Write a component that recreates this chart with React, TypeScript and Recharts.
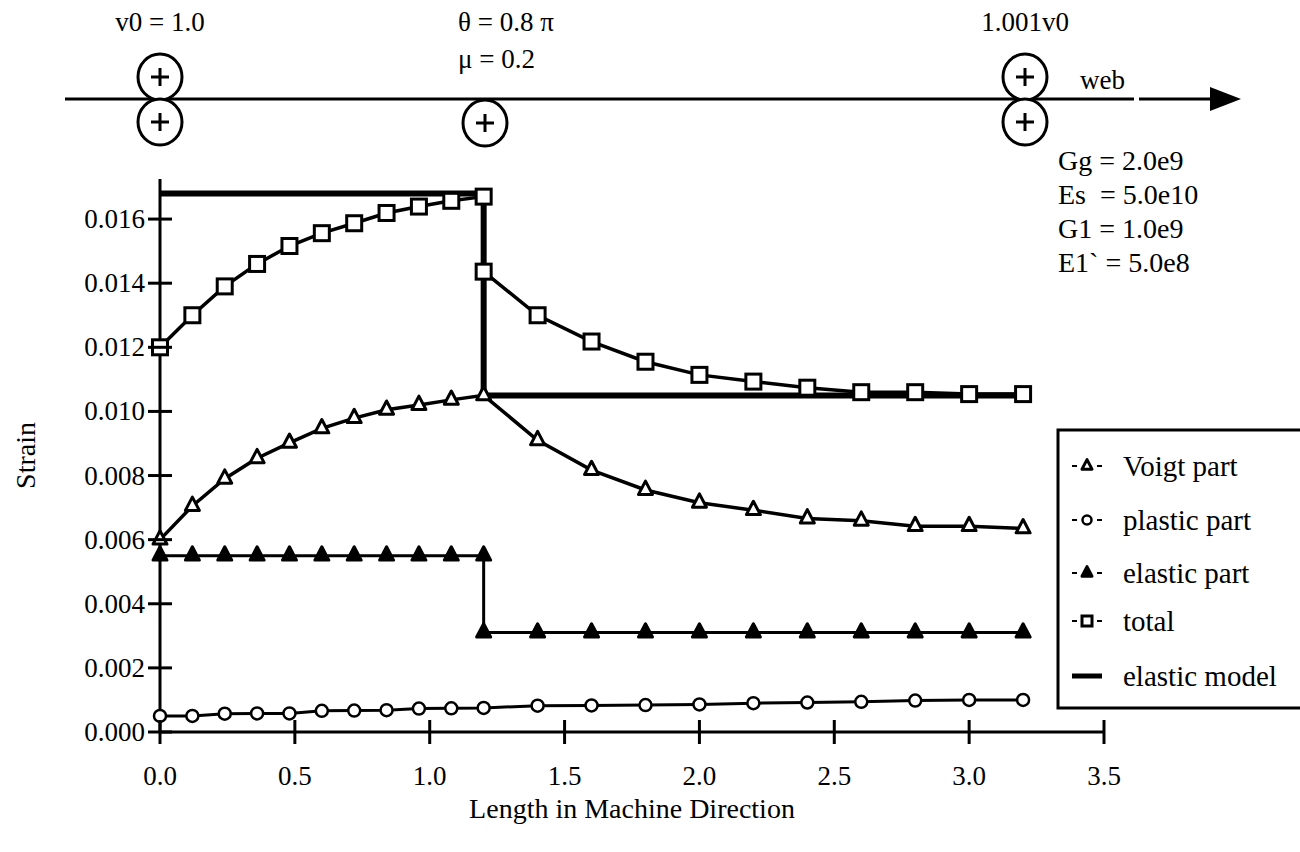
import React from 'react';
import { LineChart, Line, XAxis, YAxis } from 'recharts';

const font = 'Liberation Serif, Times New Roman, DejaVu Serif, serif';
const ts = { fontFamily: font, whiteSpace: 'pre' as const };

// positions along the machine direction
const xBefore = [0, 0.12, 0.24, 0.36, 0.48, 0.6, 0.72, 0.84, 0.96, 1.08, 1.2];
const xAfter = [1.4, 1.6, 1.8, 2.0, 2.2, 2.4, 2.6, 2.8, 3.0, 3.2];

const voigtBefore = [0.006, 0.00705, 0.0079, 0.00854, 0.00902, 0.00947, 0.00979, 0.01005, 0.0102, 0.01036, 0.0105];
const voigtAfter = [0.0091, 0.00817, 0.00755, 0.00715, 0.00692, 0.00666, 0.00659, 0.00642, 0.00642, 0.00635];

const plasticBefore = [0.0005, 0.0005, 0.00057, 0.00058, 0.00058, 0.00066, 0.00067, 0.00068, 0.00073, 0.00074, 0.00075];
const plasticAfter = [0.00082, 0.00083, 0.00084, 0.00086, 0.0009, 0.00092, 0.00094, 0.00098, 0.001, 0.001];

const elasticBefore = [0.0055, 0.0055, 0.0055, 0.0055, 0.0055, 0.0055, 0.0055, 0.0055, 0.0055, 0.0055, 0.0055];
// first value is the lower point at x = 1.2
const elasticAfter = [0.0031, 0.0031, 0.0031, 0.0031, 0.0031, 0.0031, 0.0031, 0.0031, 0.0031, 0.0031, 0.0031];

const totalBefore = [0.012, 0.013, 0.0139, 0.0146, 0.01516, 0.01556, 0.01587, 0.01619, 0.01639, 0.01657, 0.0167];
const totalAfter = [0.01436, 0.013, 0.01218, 0.01155, 0.01114, 0.01093, 0.01074, 0.0106, 0.0106, 0.01054, 0.01054];

const modelX = [0, 1.2, 1.2, 3.2];
const modelY = [0.0168, 0.0168, 0.0105, 0.0105];

const xTicks = [0, 0.5, 1.0, 1.5, 2.0, 2.5, 3.0, 3.5];
const yTicks = [0, 0.002, 0.004, 0.006, 0.008, 0.01, 0.012, 0.014, 0.016];

const legendItems = ['Voigt part', 'plastic part', 'elastic part', 'total', 'elastic model'];
const params = ['Gg = 2.0e9', 'Es  = 5.0e10', 'G1 = 1.0e9', 'E1` = 5.0e8'];

const pts = (xs: number[], ys: number[]) => xs.map((x, i) => ({ x, y: ys[i] }));

const voigt = [...pts(xBefore, voigtBefore), ...pts(xAfter, voigtAfter)];
const plastic = [...pts(xBefore, plasticBefore), ...pts(xAfter, plasticAfter)];
const elastic = [...pts(xBefore, elasticBefore), ...pts([1.2, ...xAfter], elasticAfter)];
const total = [...pts(xBefore, totalBefore), ...pts([1.2, ...xAfter], totalAfter)];
const model = pts(modelX, modelY);

const Square = ({ cx, cy, s = 15 }: any) => (
  <rect x={cx - s / 2} y={cy - s / 2} width={s} height={s} fill="#fff" stroke="#000" strokeWidth={3} />
);
const Tri = ({ cx, cy, s = 14, filled = false }: any) => {
  const h = s * 0.95;
  const d = `M${cx},${cy - (2 * h) / 3} L${cx + s / 2},${cy + h / 3} L${cx - s / 2},${cy + h / 3} Z`;
  return <path d={d} fill={filled ? '#000' : '#fff'} stroke="#000" strokeWidth={3} strokeLinejoin="round" />;
};
const Circ = ({ cx, cy, r = 6 }: any) => <circle cx={cx} cy={cy} r={r} fill="#fff" stroke="#000" strokeWidth={2.5} />;

const YTick = ({ x, y, payload }: any) => {
  const ax = x + 12;
  return (
    <g>
      <line x1={ax - 12} x2={ax + 12} y1={y} y2={y} stroke="#000" strokeWidth={3} />
      <text x={x - 3} y={y + 9} textAnchor="end" fontSize={27} style={ts} fill="#000">
        {payload.value.toFixed(3)}
      </text>
    </g>
  );
};

const XTick = ({ x, y, payload }: any) => {
  const ay = y - 12;
  return (
    <g>
      <line x1={x} x2={x} y1={ay - 12} y2={ay + 12} stroke="#000" strokeWidth={3} />
      <text x={x} y={ay + 53} textAnchor="middle" fontSize={27} style={ts} fill="#000">
        {payload.value.toFixed(1)}
      </text>
    </g>
  );
};

const Roller = ({ x, y }: { x: number; y: number }) => (
  <g>
    <ellipse cx={x} cy={y} rx={22} ry={23} fill="#fff" stroke="#000" strokeWidth={3} />
    <line x1={x - 9} x2={x + 9} y1={y} y2={y} stroke="#000" strokeWidth={3} />
    <line x1={x} x2={x} y1={y - 9} y2={y + 9} stroke="#000" strokeWidth={3} />
  </g>
);

const LegendMark = ({ i, x, y }: { i: number; x: number; y: number }) => {
  const dash = <line x1={x - 15} x2={x + 15} y1={y} y2={y} stroke="#000" strokeWidth={2} strokeDasharray="5 20" />;
  if (i === 0) return <g>{dash}<Tri cx={x} cy={y} s={10} /></g>;
  if (i === 1) return <g>{dash}<Circ cx={x} cy={y} r={4.5} /></g>;
  if (i === 2) return <g>{dash}<Tri cx={x} cy={y} s={10} filled /></g>;
  if (i === 3) return <g>{dash}<Square cx={x} cy={y} s={10} /></g>;
  return <line x1={x - 15} x2={x + 15} y1={y} y2={y} stroke="#000" strokeWidth={5} />;
};

export default function App() {
  const legendY = [466, 520, 573, 621, 676];
  return (
    <div style={{ position: 'absolute', left: 0, top: 0, width: 1300, height: 852, background: '#fff', fontFamily: font }}>
      <LineChart width={1300} height={852} margin={{ top: 179, right: 196, left: 100, bottom: 70 }}>
        <XAxis
          type="number"
          dataKey="x"
          domain={[0, 3.5]}
          ticks={xTicks}
          tick={<XTick />}
          tickSize={12}
          tickMargin={0}
          tickLine={false}
          height={50}
          axisLine={{ stroke: '#000', strokeWidth: 3 }}
          allowDuplicatedCategory={false}
          label={({ viewBox }: any) => (
            <text x={viewBox.x + viewBox.width / 2} y={818} textAnchor="middle" fontSize={28} style={ts} fill="#000">
              Length in Machine Direction
            </text>
          )}
        />
        <YAxis
          type="number"
          dataKey="y"
          domain={[0, 0.01725]}
          allowDataOverflow
          ticks={yTicks}
          tick={<YTick />}
          tickSize={12}
          tickMargin={0}
          tickLine={false}
          width={60}
          axisLine={{ stroke: '#000', strokeWidth: 3 }}
          label={({ viewBox }: any) => (
            <text
              x={25}
              y={viewBox.y + viewBox.height / 2}
              transform={`rotate(-90 25 ${viewBox.y + viewBox.height / 2})`}
              textAnchor="middle"
              dominantBaseline="central"
              fontSize={28}
              style={ts}
              fill="#000"
            >
              Strain
            </text>
          )}
        />
        <Line data={model} dataKey="y" type="linear" stroke="#000" strokeWidth={6} dot={false} isAnimationActive={false} />
        <Line
          data={elastic}
          dataKey="y"
          type="linear"
          stroke="#000"
          strokeWidth={3}
          isAnimationActive={false}
          dot={(p: any) => <Tri key={`e${p.index}`} cx={p.cx} cy={p.cy} filled />}
        />
        <Line
          data={plastic}
          dataKey="y"
          type="linear"
          stroke="#000"
          strokeWidth={3}
          isAnimationActive={false}
          dot={(p: any) => <Circ key={`p${p.index}`} cx={p.cx} cy={p.cy} />}
        />
        <Line
          data={voigt}
          dataKey="y"
          type="linear"
          stroke="#000"
          strokeWidth={3.5}
          isAnimationActive={false}
          dot={(p: any) => <Tri key={`v${p.index}`} cx={p.cx} cy={p.cy} />}
        />
        <Line
          data={total}
          dataKey="y"
          type="linear"
          stroke="#000"
          strokeWidth={3.5}
          isAnimationActive={false}
          dot={(p: any) => <Square key={`t${p.index}`} cx={p.cx} cy={p.cy} />}
        />
      </LineChart>
      <svg width={1300} height={852} style={{ position: 'absolute', left: 0, top: 0, pointerEvents: 'none' }}>
        <g fill="#000" fontSize={27}>
          <line x1={65} x2={1134} y1={99} y2={99} stroke="#000" strokeWidth={3} />
          <line x1={1139} x2={1212} y1={99} y2={99} stroke="#000" strokeWidth={3} />
          <path d="M1210,87 L1241,99 L1210,111 Z" fill="#000" />
          <Roller x={160} y={77} />
          <Roller x={160} y={122} />
          <Roller x={485} y={123} />
          <Roller x={1025} y={77} />
          <Roller x={1025} y={122} />
          <text x={160} y={31} textAnchor="middle" style={ts}>v0 = 1.0</text>
          <text x={458} y={31} style={ts}>θ = 0.8 π</text>
          <text x={458} y={68} style={ts}>μ = 0.2</text>
          <text x={1025} y={31} textAnchor="middle" style={ts}>1.001v0</text>
          <text x={1080} y={89} style={ts}>web</text>
          {params.map((t, i) => (
            <text key={t} x={1058} y={170 + i * 34} fontSize={28} style={ts}>{t}</text>
          ))}
          <rect x={1058} y={430} width={260} height={278} fill="#fff" stroke="#000" strokeWidth={3} />
          {legendItems.map((t, i) => (
            <g key={t}>
              <LegendMark i={i} x={1087} y={legendY[i]} />
              <text x={1123} y={legendY[i] + 10} fontSize={29} style={ts}>{t}</text>
            </g>
          ))}
        </g>
      </svg>
    </div>
  );
}
